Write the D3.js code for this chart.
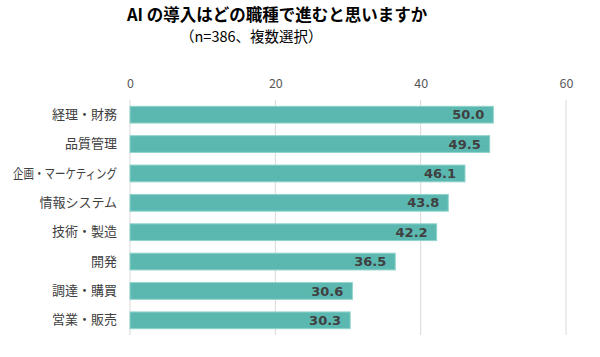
<!DOCTYPE html>
<html><head><meta charset="utf-8">
<script src="https://cdn.jsdelivr.net/npm/d3@7"></script>
<style>body{margin:0;background:#fff;} svg{display:block;font-family:"Noto Sans CJK JP","Noto Sans",sans-serif;}</style>
</head><body>
<svg id="c" width="600" height="357"></svg>
<script>
const categories = ["経理・財務","品質管理","企画・マーケティング","情報システム","技術・製造","開発","調達・購買","営業・販売"];
const values = [50.0,49.5,46.1,43.8,42.2,36.5,30.6,30.3];
const tickValues = [0,20,40,60];
const title = "AI の導入はどの職種で進むと思いますか";
const subtitle = "（n=386、複数選択）";

const svg = d3.select("#c");
const x = d3.scaleLinear().domain([0,60]).range([130,566]);
const y = d3.scaleBand().domain(categories).range([100,335]).paddingInner(0.43).paddingOuter(0.215);

svg.append("text").attr("x",127).attr("y",21).attr("font-size",16.5).attr("font-weight","bold").attr("fill","#000").text(title);
svg.append("text").attr("x",180).attr("y",42).attr("font-size",14.5).attr("fill","#000").text(subtitle);

svg.append("g").selectAll("line").data(tickValues).join("line")
  .attr("x1",d=>x(d)).attr("x2",d=>x(d)).attr("y1",100).attr("y2",335)
  .attr("stroke","#d9d9d9").attr("stroke-width",1);

const ax = d3.axisTop(x).tickValues(tickValues).tickSize(0).tickPadding(0);
const axg = svg.append("g").attr("transform","translate(0,88)").call(ax);
axg.select(".domain").remove();
axg.selectAll("text").attr("font-size",12.5).attr("fill","#595959").attr("font-family","'Noto Sans CJK JP',sans-serif");

const ay = d3.axisLeft(y).tickSize(0).tickPadding(0);
const ayg = svg.append("g").attr("transform","translate(117,0)").call(ay);
ayg.select(".domain").remove();
ayg.selectAll("text").attr("font-size",13).attr("fill","#404040").attr("font-family","'Noto Sans CJK JP',sans-serif")
  .each(function(){
    const w = this.getComputedTextLength();
    if (w > 104) d3.select(this).attr("textLength",104).attr("lengthAdjust","spacingAndGlyphs");
  });

const data = categories.map((c,i)=>({c,v:values[i]}));
svg.append("g").selectAll("rect").data(data).join("rect")
  .attr("x",x(0)).attr("y",d=>y(d.c)).attr("width",d=>x(d.v)-x(0)).attr("height",y.bandwidth())
  .attr("fill","#5bb8b0").attr("stroke","#8fd3cb").attr("stroke-width",1);

svg.append("g").selectAll("text").data(data).join("text")
  .attr("x",d=>x(d.v)-9).attr("y",d=>y(d.c)+y.bandwidth()/2).attr("dy","0.36em")
  .attr("text-anchor","end").attr("font-size",13).attr("font-weight","bold").attr("fill","#404040")
  .attr("font-family","Verdana,'DejaVu Sans',sans-serif")
  .text(d=>d.v.toFixed(1));
</script>
</body></html>
